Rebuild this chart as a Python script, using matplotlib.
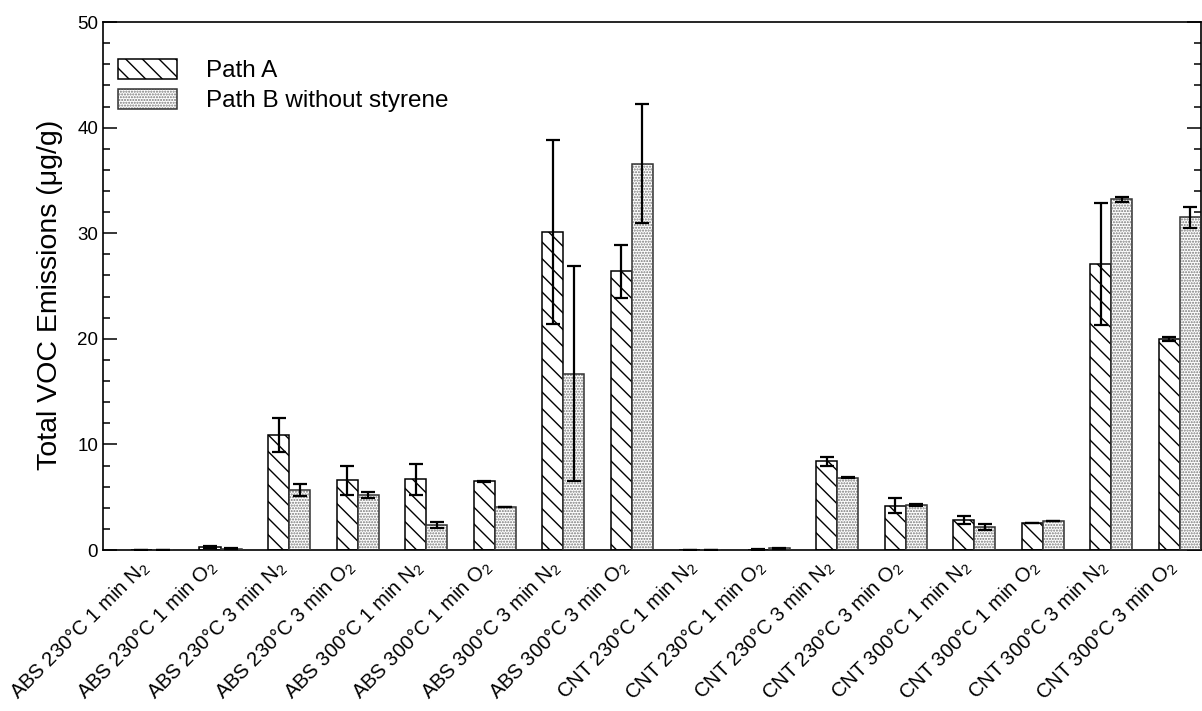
import numpy as np
import matplotlib
matplotlib.use("Agg")
import matplotlib.pyplot as plt
from matplotlib.patches import Patch
from matplotlib.ticker import MultipleLocator
from matplotlib.transforms import ScaledTranslation

plt.rcParams['font.family'] = ['Liberation Sans', 'DejaVu Sans']
plt.rcParams['mathtext.fontset'] = 'custom'
plt.rcParams['mathtext.rm'] = 'Liberation Sans'
plt.rcParams['mathtext.it'] = 'Liberation Sans'
plt.rcParams['hatch.linewidth'] = 1.0

# sample conditions
labels = [
    'ABS 230°C 1 min N$_2$', 'ABS 230°C 1 min O$_2$',
    'ABS 230°C 3 min N$_2$', 'ABS 230°C 3 min O$_2$',
    'ABS 300°C 1 min N$_2$', 'ABS 300°C 1 min O$_2$',
    'ABS 300°C 3 min N$_2$', 'ABS 300°C 3 min O$_2$',
    'CNT 230°C 1 min N$_2$', 'CNT 230°C 1 min O$_2$',
    'CNT 230°C 3 min N$_2$', 'CNT 230°C 3 min O$_2$',
    'CNT 300°C 1 min N$_2$', 'CNT 300°C 1 min O$_2$',
    'CNT 300°C 3 min N$_2$', 'CNT 300°C 3 min O$_2$',
]

# total VOC (ug/g) and standard deviations
path_a = [0.02, 0.3, 10.9, 6.6, 6.7, 6.5, 30.1, 26.4,
          0.02, 0.05, 8.4, 4.2, 2.85, 2.55, 27.1, 19.95]
path_a_err = [0, 0.08, 1.65, 1.35, 1.45, 0.03, 8.7, 2.5,
              0, 0.02, 0.4, 0.7, 0.35, 0.03, 5.8, 0.2]
path_b = [0.02, 0.12, 5.7, 5.2, 2.4, 4.05, 16.7, 36.6,
          0.02, 0.15, 6.85, 4.25, 2.15, 2.75, 33.2, 31.5]
path_b_err = [0, 0.05, 0.6, 0.3, 0.3, 0.02, 10.2, 5.65,
              0, 0.05, 0.05, 0.12, 0.3, 0.03, 0.2, 1.0]

x = np.arange(len(labels))
w = 0.307
dot_color = '#777777'

fig = plt.figure(figsize=(12.02, 7.11), dpi=100)
ax = fig.add_axes([0.0857, 0.2264, 0.9135, 0.7426])

# Path A: diagonal hatch
ax.bar(x - w / 2, path_a, w, facecolor='white', edgecolor='black',
       hatch='\\\\', linewidth=1.1, zorder=2)
# Path B: grey stipple, outline drawn on top
ax.bar(x + w / 2, path_b, w, facecolor='white', edgecolor=dot_color,
       hatch='......', linewidth=0, zorder=2)
ax.bar(x + w / 2, path_b, w, fill=False, edgecolor='#333333',
       linewidth=1.1, zorder=3)

ax.errorbar(x - w / 2, path_a, yerr=path_a_err, fmt='none', ecolor='black',
            elinewidth=1.6, capsize=5, capthick=1.6, zorder=4)
ax.errorbar(x + w / 2, path_b, yerr=path_b_err, fmt='none', ecolor='black',
            elinewidth=1.6, capsize=5, capthick=1.6, zorder=4)

ax.set_xlim(-0.715, 15.31)
ax.set_ylim(0, 50)
ax.set_xticks(x)
ax.set_xticklabels(labels, rotation=45, ha='right', va='top',
                   rotation_mode='anchor', fontsize=14.5)
ax.tick_params(axis='x', length=0, pad=6)
shift = ScaledTranslation(-0.15, 0.03, fig.dpi_scale_trans)
for lab in ax.get_xticklabels():
    lab.set_transform(lab.get_transform() + shift)

ax.yaxis.set_major_locator(MultipleLocator(10))
ax.yaxis.set_minor_locator(MultipleLocator(2))
ax.tick_params(axis='y', which='major', direction='in', length=10, width=1.1,
               labelsize=13.5, right=True)
ax.tick_params(axis='y', which='minor', direction='in', length=5, width=1.1,
               right=True)
for s in ax.spines.values():
    s.set_linewidth(1.2)

ax.set_ylabel('Total VOC Emissions (μg/g)', fontsize=20.5)
ax.yaxis.set_label_coords(-0.036, 0.483)

h_a = Patch(facecolor='white', edgecolor='black', hatch='\\\\', linewidth=1.1)
h_b_dots = Patch(facecolor='white', edgecolor=dot_color, hatch='......', linewidth=0)
h_b_edge = Patch(fill=False, edgecolor='#333333', linewidth=1.1)
ax.legend([h_a, (h_b_dots, h_b_edge)], ['Path A', 'Path B without styrene'],
          loc='upper left', bbox_to_anchor=(0.003, 0.953), frameon=False,
          fontsize=17.5, handlelength=2.4, handleheight=0.9,
          handletextpad=1.2, labelspacing=0.25, borderpad=0)

fig.savefig('out.png', dpi=100)
